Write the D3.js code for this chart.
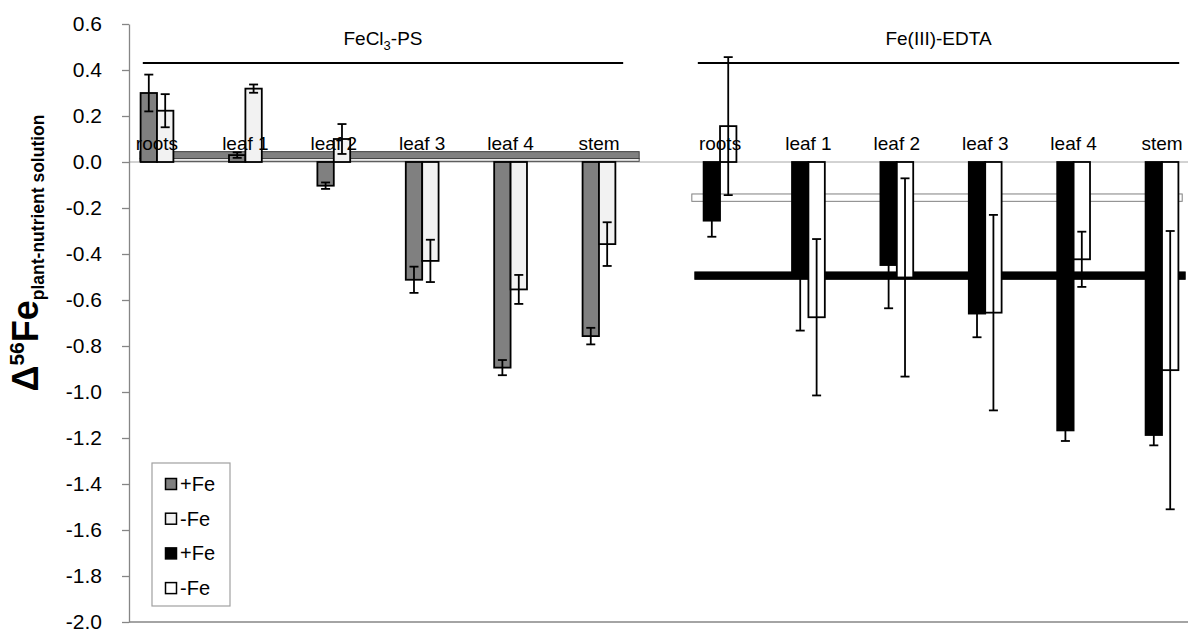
<!DOCTYPE html>
<html>
<head>
<meta charset="utf-8">
<script src="https://cdn.jsdelivr.net/npm/d3@7"></script>
<style>
  html, body { margin: 0; padding: 0; background: #fff; }
  svg { display: block; font-family: "Liberation Sans", Arial, sans-serif; }
</style>
</head>
<body>
<svg id="chart" width="1188" height="635"></svg>
<script>
// Iron isotope fractionation between plant organs and the nutrient solution
const treatments = ["FeCl3-PS", "Fe(III)-EDTA"];
const organs = ["roots", "leaf 1", "leaf 2", "leaf 3", "leaf 4", "stem"];

// FeCl3-PS treatment
const psPlusFe = [0.30, 0.03, -0.103, -0.512, -0.894, -0.757];
const psPlusFeErr = [0.08, 0.012, 0.014, 0.057, 0.033, 0.036];
const psMinusFe = [0.223, 0.319, 0.10, -0.43, -0.554, -0.357];
const psMinusFeErr = [0.072, 0.018, 0.065, 0.092, 0.063, 0.095];

// Fe(III)-EDTA treatment
const edtaPlusFe = [-0.255, -0.495, -0.448, -0.659, -1.167, -1.187];
const edtaPlusFeErr = [0.07, 0.238, 0.188, 0.103, 0.046, 0.045];
const edtaMinusFe = [0.156, -0.675, -0.502, -0.655, -0.423, -0.905];
const edtaMinusFeErr = [0.30, 0.34, 0.431, 0.425, 0.12, 0.605];

// Nutrient solution ranges [low, high]
const psSolutionPlusFe = [0.015, 0.045];
const psSolutionMinusFe = [0.003, 0.015];
const edtaSolutionMinusFe = [-0.171, -0.139];
const edtaSolutionPlusFe = [-0.51, -0.478];

const yTicks = [-2.0, -1.8, -1.6, -1.4, -1.2, -1.0, -0.8, -0.6, -0.4, -0.2, 0.0, 0.2, 0.4, 0.6];
const legendLabels = ["+Fe", "-Fe", "+Fe", "-Fe"];

const svg = d3.select("#chart");
const axisX = 129, plotRight = 1188, plotTop = 24, plotBottom = 622;

const y = d3.scaleLinear().domain([-2.0, 0.6]).range([plotBottom, plotTop]);
const x0 = d3.scaleBand().domain(treatments).range([112.8, 1206.2]).paddingInner(0.058);
const x1 = d3.scaleBand().domain(organs).range([0, x0.bandwidth()]);
const barW = 16.4;

const groups = [
  { name: treatments[0], plus: psPlusFe, plusErr: psPlusFeErr, minus: psMinusFe, minusErr: psMinusFeErr,
    plusFill: "#808080", minusFill: "#f2f2f2",
    header: [30, -20], bands: [
      { r: psSolutionPlusFe, fill: "#808080", stroke: "#404040", ext: [27, -4] },
      { r: psSolutionMinusFe, fill: "#f2f2f2", stroke: "#404040", ext: [27, -4] }
    ] },
  { name: treatments[1], plus: edtaPlusFe, plusErr: edtaPlusFeErr, minus: edtaMinusFe, minusErr: edtaMinusFeErr,
    plusFill: "#000000", minusFill: "#ffffff",
    header: [22, -27], bands: [
      { r: edtaSolutionMinusFe, fill: "#ffffff", stroke: "#808080", ext: [16, -24] },
      { r: edtaSolutionPlusFe, fill: "#000000", stroke: "#000000", ext: [19, -21] }
    ] }
];

// zero line
svg.append("line")
  .attr("x1", axisX).attr("x2", plotRight)
  .attr("y1", y(0)).attr("y2", y(0))
  .attr("stroke", "#a6a6a6").attr("stroke-width", 1);

// bottom frame line
svg.append("line")
  .attr("x1", axisX).attr("x2", plotRight)
  .attr("y1", plotBottom).attr("y2", plotBottom)
  .attr("stroke", "#868686").attr("stroke-width", 1.3);

// y axis
const yAxis = d3.axisLeft(y).tickValues(yTicks).tickSizeInner(7).tickSizeOuter(0).tickPadding(20)
  .tickFormat(d => d.toFixed(1));
const gy = svg.append("g").attr("transform", `translate(${axisX},0)`).call(yAxis);
gy.select(".domain").attr("stroke", "#868686").attr("stroke-width", 1.3);
gy.selectAll(".tick line").attr("stroke", "#868686").attr("stroke-width", 1.3);
gy.selectAll(".tick text").attr("font-size", 21).attr("fill", "#000")
  .attr("font-family", "Liberation Sans, Arial, sans-serif");

groups.forEach(g => {
  const gx = x0(g.name);
  const left = gx, right = gx + x0.bandwidth();

  // header line and title
  const hx1 = left + g.header[0], hx2 = right + g.header[1];
  svg.append("line")
    .attr("x1", hx1).attr("x2", hx2).attr("y1", 63).attr("y2", 63)
    .attr("stroke", "#000").attr("stroke-width", 2);
  const title = svg.append("text")
    .attr("x", (hx1 + hx2) / 2).attr("y", 45)
    .attr("text-anchor", "middle").attr("font-size", 19).attr("fill", "#000");
  if (g.name === "FeCl3-PS") {
    title.append("tspan").text("FeCl");
    title.append("tspan").attr("font-size", 13).attr("dy", 5).text("3");
    title.append("tspan").attr("dy", -5).text("-PS");
  } else {
    title.text(g.name);
  }

  // nutrient solution bands
  g.bands.forEach(b => {
    svg.append("rect")
      .attr("x", left + b.ext[0])
      .attr("width", (right + b.ext[1]) - (left + b.ext[0]))
      .attr("y", y(b.r[1]))
      .attr("height", y(b.r[0]) - y(b.r[1]))
      .attr("fill", b.fill).attr("stroke", b.stroke).attr("stroke-width", 1);
  });

  // bars
  const series = [
    { vals: g.plus, errs: g.plusErr, fill: g.plusFill, off: -barW },
    { vals: g.minus, errs: g.minusErr, fill: g.minusFill, off: 0 }
  ];
  series.forEach(s => {
    svg.append("g").selectAll("rect").data(organs).join("rect")
      .attr("x", (d, i) => gx + x1(d) + x1.bandwidth() / 2 + s.off)
      .attr("width", barW)
      .attr("y", (d, i) => Math.min(y(s.vals[i]), y(0)))
      .attr("height", (d, i) => Math.abs(y(s.vals[i]) - y(0)))
      .attr("fill", s.fill).attr("stroke", "#000").attr("stroke-width", 1.8);
  });
  // error bars
  series.forEach(s => {
    const eg = svg.append("g").attr("stroke", "#000").attr("stroke-width", 1.8);
    organs.forEach((d, i) => {
      const cx = gx + x1(d) + x1.bandwidth() / 2 + s.off + barW / 2;
      const hi = y(s.vals[i] + s.errs[i]), lo = y(s.vals[i] - s.errs[i]);
      eg.append("line").attr("x1", cx).attr("x2", cx).attr("y1", hi).attr("y2", lo);
      eg.append("line").attr("x1", cx - 4.5).attr("x2", cx + 4.5).attr("y1", hi).attr("y2", hi);
      eg.append("line").attr("x1", cx - 4.5).attr("x2", cx + 4.5).attr("y1", lo).attr("y2", lo);
    });
  });

  // category labels, drawn over the bars
  svg.append("g").selectAll("text").data(organs).join("text")
    .attr("x", d => gx + x1(d) + x1.bandwidth() / 2)
    .attr("y", 150)
    .attr("text-anchor", "middle").attr("font-size", 19).attr("fill", "#000")
    .text(d => d);
});

// legend
const legend = svg.append("g").attr("transform", "translate(152,463)");
legend.append("rect").attr("width", 78).attr("height", 143)
  .attr("fill", "#fff").attr("stroke", "#a0a0a0").attr("stroke-width", 1.2);
const legendFills = ["#808080", "#f2f2f2", "#000000", "#ffffff"];
legendLabels.forEach((lab, i) => {
  const cy = 21 + i * 34.7;
  legend.append("rect").attr("x", 13.5).attr("y", cy - 5.5).attr("width", 11).attr("height", 11)
    .attr("fill", legendFills[i]).attr("stroke", "#000").attr("stroke-width", 1.5);
  legend.append("text").attr("x", 28).attr("y", cy + 7)
    .attr("font-size", 20).attr("fill", "#000").text(lab);
});

// y axis title
const yt = svg.append("text")
  .attr("transform", "translate(38,253) rotate(-90)")
  .attr("text-anchor", "middle").attr("font-weight", "bold").attr("fill", "#000");
yt.append("tspan").attr("font-size", 36).text("\u0394");
yt.append("tspan").attr("font-size", 21).attr("dy", -14).text("56");
yt.append("tspan").attr("font-size", 36).attr("dy", 14).text("Fe");
yt.append("tspan").attr("font-size", 17.5).attr("dy", 6).text("plant-nutrient solution");
</script>
</body>
</html>
